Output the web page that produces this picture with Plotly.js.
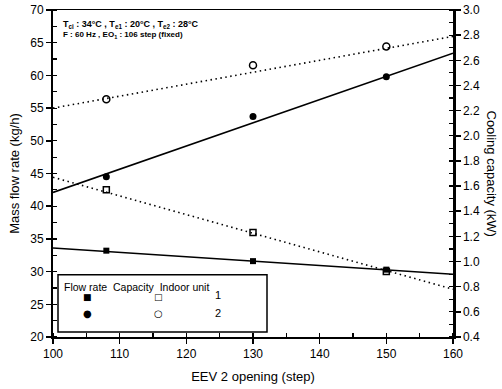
<!DOCTYPE html>
<html><head><meta charset="utf-8">
<script src="https://cdn.plot.ly/plotly-3.0.1.min.js"></script>
<style>html,body{margin:0;padding:0;background:#fff}#chart{width:502px;height:389px}</style>
</head><body><div id="chart"></div>
<script>
// EEV 2 opening (step)
const opening = [108, 130, 150];
// Mass flow rate (kg/h)
const flowUnit1 = [33.2, 31.6, 30.3];
const flowUnit2 = [44.5, 53.7, 59.8];
// Cooling capacity (kW)
const capUnit1 = [1.57, 1.23, 0.92];
const capUnit2 = [2.29, 2.56, 2.71];
// Fitted trend lines (end points)
const fitX = [100, 160];
const fitFlow1 = [33.6, 29.6];
const fitFlow2 = [42.1, 63.4];
const fitCap1 = [1.67, 0.78];
const fitCap2 = [2.22, 2.79];
const xTicks = [100, 110, 120, 130, 140, 150, 160];
const yTicks = [20, 25, 30, 35, 40, 45, 50, 55, 60, 65, 70];
const y2Ticks = [0.4, 0.6, 0.8, 1.0, 1.2, 1.4, 1.6, 1.8, 2.0, 2.2, 2.4, 2.6, 2.8, 3.0];

const F = 'Liberation Sans, Arial, sans-serif';
const dotted = '1.5px,3.5px';
const traces = [
  {x: fitX, y: fitFlow1, mode: 'lines', line: {color: '#000', width: 1.6}, yaxis: 'y', hoverinfo: 'skip'},
  {x: fitX, y: fitFlow2, mode: 'lines', line: {color: '#000', width: 1.6}, yaxis: 'y', hoverinfo: 'skip'},
  {x: fitX, y: fitCap1, mode: 'lines', line: {color: '#000', width: 1.6, dash: dotted}, yaxis: 'y2', hoverinfo: 'skip'},
  {x: fitX, y: fitCap2, mode: 'lines', line: {color: '#000', width: 1.6, dash: dotted}, yaxis: 'y2', hoverinfo: 'skip'},
  {x: opening, y: flowUnit1, mode: 'markers', marker: {symbol: 'square', size: 6, color: '#000'}, yaxis: 'y'},
  {x: opening, y: flowUnit2, mode: 'markers', marker: {symbol: 'circle', size: 7, color: '#000'}, yaxis: 'y'},
  {x: opening, y: capUnit1, mode: 'markers', marker: {symbol: 'square-open', size: 6, color: '#000', line: {width: 1.5}}, yaxis: 'y2'},
  {x: opening, y: capUnit2, mode: 'markers', marker: {symbol: 'circle-open', size: 7, color: '#000', line: {width: 1.5}}, yaxis: 'y2'}
];

const tickFont = {family: F, size: 12, color: '#000'};
const layout = {
  width: 502, height: 389,
  margin: {l: 53, r: 49, t: 10, b: 52},
  paper_bgcolor: '#fff', plot_bgcolor: '#fff',
  showlegend: false,
  xaxis: {
    range: [100, 160], tickvals: xTicks, ticktext: xTicks.map(String),
    ticks: 'outside', ticklen: 5, tickwidth: 1.5, tickcolor: '#000',
    minor: {dtick: 5, ticks: 'inside', ticklen: 4, tickwidth: 1.2, tickcolor: '#000'},
    showline: true, linecolor: '#000', linewidth: 1.5, mirror: true,
    showgrid: false, zeroline: false, tickfont: tickFont,
    title: {text: 'EEV 2 opening (step)', font: {family: F, size: 13, color: '#000'}, standoff: 12}
  },
  yaxis: {
    range: [20, 70], tickvals: yTicks, ticktext: yTicks.map(String),
    ticks: 'outside', ticklen: 5, tickwidth: 1.5, tickcolor: '#000',
    minor: {dtick: 2.5, tick0: 20, ticks: 'inside', ticklen: 4, tickwidth: 1.2, tickcolor: '#000'},
    showline: true, linecolor: '#000', linewidth: 2, mirror: false,
    showgrid: false, zeroline: false, tickfont: tickFont,
    title: {text: 'Mass flow rate (kg/h)', font: {family: F, size: 13, color: '#000'}, standoff: 8}
  },
  yaxis2: {
    range: [0.4, 3.0], overlaying: 'y', side: 'right',
    tickvals: y2Ticks, ticktext: y2Ticks.map(v => v.toFixed(1)),
    ticks: 'outside', ticklen: 5, tickwidth: 1.5, tickcolor: '#000',
    minor: {dtick: 0.1, tick0: 0.4, ticks: 'inside', ticklen: 4, tickwidth: 1.2, tickcolor: '#000'},
    showline: true, linecolor: '#000', linewidth: 2.5,
    showgrid: false, zeroline: false, tickfont: tickFont
  },
  shapes: [
    {type: 'rect', xref: 'paper', yref: 'paper', x0: 0.0125, x1: 0.535, y0: 0.015, y1: 0.19,
     line: {color: '#000', width: 1.5}, fillcolor: '#fff', layer: 'above'}
  ],
  annotations: [
    {xref: 'paper', yref: 'paper', x: 1.095, y: 0.5, xanchor: 'center', yanchor: 'middle', text: 'Cooling capacity (kW)', textangle: 90,
     showarrow: false, font: {family: F, size: 13, color: '#000'}},
    {xref: 'paper', yref: 'paper', x: 0.02, y: 0.955, xanchor: 'left', yanchor: 'middle', showarrow: false,
     text: '<b>T<sub>ci</sub> : 34°C , T<sub>e1</sub> : 20°C , T<sub>e2</sub> : 28°C</b>', font: {family: F, size: 9, color: '#000'}},
    {xref: 'paper', yref: 'paper', x: 0.02, y: 0.925, xanchor: 'left', yanchor: 'middle', showarrow: false,
     text: '<b>F : 60 Hz , EO<sub>1</sub> : 106 step (fixed)</b>', font: {family: F, size: 8, color: '#000'}},
    {xref: 'paper', yref: 'paper', x: 0.022, y: 0.152, xanchor: 'left', yanchor: 'middle', showarrow: false,
     text: 'Flow rate&nbsp;&nbsp;Capacity&nbsp;&nbsp;Indoor unit', font: {family: F, size: 10.5, color: '#000'}},
    {xref: 'paper', yref: 'paper', x: 0.07, y: 0.1, showarrow: false, text: '■', font: {family: 'DejaVu Sans', size: 9, color: '#000'}},
    {xref: 'paper', yref: 'paper', x: 0.07, y: 0.048, showarrow: false, text: '●', font: {family: 'DejaVu Sans', size: 10, color: '#000'}},
    {xref: 'paper', yref: 'paper', x: 0.247, y: 0.1, showarrow: false, text: '□', font: {family: 'DejaVu Sans', size: 9, color: '#000'}},
    {xref: 'paper', yref: 'paper', x: 0.247, y: 0.048, showarrow: false, text: '○', font: {family: 'DejaVu Sans', size: 10, color: '#000'}},
    {xref: 'paper', yref: 'paper', x: 0.412, y: 0.103, showarrow: false, text: '1', font: {family: F, size: 11, color: '#000'}},
    {xref: 'paper', yref: 'paper', x: 0.412, y: 0.05, showarrow: false, text: '2', font: {family: F, size: 11, color: '#000'}}
  ]
};
Plotly.newPlot('chart', traces, layout, {staticPlot: true, displayModeBar: false});
</script></body></html>
